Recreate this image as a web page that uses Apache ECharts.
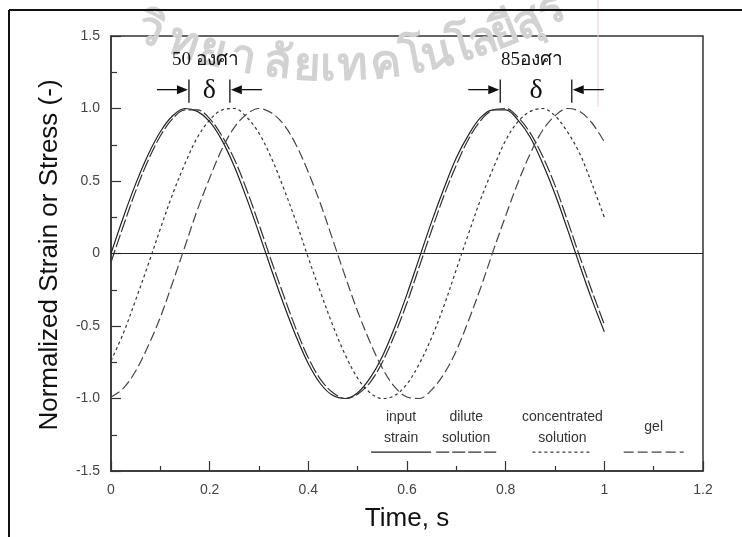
<!DOCTYPE html>
<html>
<head>
<meta charset="utf-8">
<script src="https://cdn.jsdelivr.net/npm/echarts@6/dist/echarts.min.js"></script>
<style>
html,body{margin:0;padding:0;background:#fff;}
#chart{width:742px;height:537px;}
</style>
</head>
<body>
<div id="chart"></div>
<script>
// ---- data ----
const times = [0,0.025,0.05,0.075,0.1,0.125,0.15,0.175,0.2,0.225,0.25,0.275,0.3,0.325,0.35,0.375,0.4,0.425,0.45,0.475,0.5,0.525,0.55,0.575,0.6,0.625,0.65,0.675,0.7,0.725,0.75,0.775,0.8,0.825,0.85,0.875,0.9,0.925,0.95,0.975,1.0];
const inputStrain = [0,0.25,0.48,0.68,0.84,0.95,1.00,0.98,0.91,0.78,0.60,0.38,0.14,-0.11,-0.35,-0.57,-0.76,-0.90,-0.98,-1.00,-0.96,-0.86,-0.71,-0.51,-0.28,-0.03,0.22,0.45,0.66,0.82,0.94,0.99,0.99,0.92,0.80,0.62,0.41,0.17,-0.08,-0.32,-0.54];
const diluteSolution = [-0.06,0.19,0.43,0.64,0.81,0.93,0.99,0.99,0.93,0.81,0.65,0.44,0.20,-0.05,-0.29,-0.52,-0.72,-0.87,-0.96,-1.00,-0.97,-0.89,-0.75,-0.56,-0.34,-0.09,0.16,0.40,0.61,0.79,0.92,0.99,1.00,0.94,0.83,0.67,0.47,0.23,-0.02,-0.26,-0.49];
const concentratedSolution = [-0.74,-0.55,-0.32,-0.08,0.17,0.41,0.62,0.80,0.92,0.99,1.00,0.94,0.83,0.66,0.45,0.22,-0.03,-0.27,-0.50,-0.70,-0.86,-0.96,-1.00,-0.98,-0.90,-0.76,-0.58,-0.36,-0.11,0.14,0.38,0.59,0.78,0.91,0.98,1.00,0.95,0.84,0.69,0.48,0.25];
const gel = [-0.99,-0.93,-0.81,-0.64,-0.44,-0.20,0.05,0.30,0.52,0.72,0.87,0.96,1.00,0.97,0.89,0.75,0.56,0.34,0.09,-0.16,-0.40,-0.61,-0.79,-0.92,-0.99,-1.00,-0.94,-0.83,-0.67,-0.46,-0.23,0.02,0.26,0.49,0.69,0.85,0.95,1.00,0.98,0.90,0.77];
const seriesNames = ['input\nstrain','dilute\nsolution','concentrated\nsolution','gel'];
const xTickLabels = ['0','0.2','0.4','0.6','0.8','1','1.2'];
const yTickLabels = ['-1.5','-1.0','-0.5','0','0.5','1.0','1.5'];
// phase-lag annotations: [peak time of reference, peak time of lagged curve, label]
const lagAnnotations = [[0.158,0.241,'50 องศา'],[0.789,0.934,'85องศา']];
// faint watermark text (arched), split into glyph clusters
const watermarkClusters = ['วิ','ท','ย','า','ลั','ย','เ','ท','ค','โ','น','โ','ล','ยี','สุ','ร'];

const pair = (ys) => times.map((t,i)=>[t, ys[i]]);
const styles = [
  {type:'solid', color:'#222'},
  {type:[13,3], color:'#333'},
  {type:[3,3], color:'#333'},
  {type:[10,4], color:'#444'}
];
const values = [inputStrain, diluteSolution, concentratedSolution, gel];

const chart = echarts.init(document.getElementById('chart'), null, {renderer:'canvas'});
const axisFont = {fontFamily:'"Liberation Sans", Arial, sans-serif', fontSize:14, color:'#444'};

const series = values.map((ys,k)=>({
  name: seriesNames[k],
  type:'line',
  data: pair(ys),
  showSymbol:false,
  smooth:0.35,
  silent:true,
  lineStyle:{width:1.2, color:styles[k].color, type:styles[k].type},
  z: 3 + k,
  markLine: k===0 ? {
    silent:true, symbol:['none','none'], label:{show:false},
    lineStyle:{type:'solid', color:'#222', width:1},
    data:[{yAxis:0}]
  } : undefined
}));

chart.setOption({
  animation:false,
  backgroundColor:'#fff',
  grid:{left:111, right:39, top:36, bottom:66, outerBoundsMode:'none', containLabel:false,
        show:true, borderColor:'#333', borderWidth:1.5, backgroundColor:'transparent'},
  xAxis:{
    type:'value', min:0, max:1.2, interval:0.2,
    axisLine:{show:true, onZero:false, lineStyle:{color:'#333', width:1.5}},
    axisTick:{show:true, inside:true, length:10, lineStyle:{color:'#333', width:1.2}},
    minorTick:{show:true, splitNumber:2, length:5, lineStyle:{color:'#333', width:1.2}},
    splitLine:{show:false},
    axisLabel:Object.assign({margin:12, formatter:(v)=>xTickLabels[Math.round(v/0.2)]}, axisFont),
    name:'Time, s', nameLocation:'middle', nameGap:35,
    nameTextStyle:{fontFamily:'"Liberation Sans", Arial, sans-serif', fontSize:26, color:'#111'}
  },
  yAxis:{
    type:'value', min:-1.5, max:1.5, interval:0.5,
    axisLine:{show:true, onZero:false, lineStyle:{color:'#333', width:1.5}},
    axisTick:{show:true, inside:true, length:10, lineStyle:{color:'#333', width:1.2}},
    minorTick:{show:true, splitNumber:2, length:6, lineStyle:{color:'#333', width:1.2}},
    splitLine:{show:false},
    axisLabel:Object.assign({margin:11, formatter:(v)=>yTickLabels[Math.round((v+1.5)/0.5)]}, axisFont),
    name:''
  },
  series: series
});

function drawOverlay(){
  const g = [];
  // watermark along an arc
  const cx = 330, cy = -400, R = 467;
  const clusterX = [150,183,212,243,277,307,328,352,386,413,437,461,483,505,528,552];
  watermarkClusters.forEach((c,i)=>{
    const x = clusterX[i];
    const s = (x-cx)/R, phi = Math.asin(s);
    const y = cy + R*Math.cos(phi);
    g.push({type:'text', x:x, y:y, rotation:phi, z:0,
      style:{text:c, font:'bold 46px "Noto Sans", "DejaVu Sans", sans-serif', fill:'#d2d2d2', align:'center', verticalAlign:'middle'}, silent:true});
  });
  // outer frame (top + left)
  g.push({type:'line', shape:{x1:9,y1:10,x2:742,y2:10}, style:{stroke:'#111', lineWidth:2}, silent:true, z:5});
  g.push({type:'line', shape:{x1:9,y1:10,x2:9,y2:537}, style:{stroke:'#111', lineWidth:2}, silent:true, z:5});
  // faint pink scan line
  g.push({type:'line', shape:{x1:598,y1:0,x2:598,y2:107}, style:{stroke:'#f6c9c9', lineWidth:1}, silent:true});
  // y axis title
  g.push({type:'text', x:50, y:255, rotation:Math.PI/2,
    style:{text:'Normalized Strain or Stress (-)', font:'26px "Liberation Sans", Arial, sans-serif', fill:'#111', align:'center', verticalAlign:'middle'}, silent:true});

  // lag annotations
  lagAnnotations.forEach(([t0,t1,lab])=>{
    const p0 = chart.convertToPixel({gridIndex:0},[t0,1.13]);
    const p1 = chart.convertToPixel({gridIndex:0},[t1,1.13]);
    const pTop = chart.convertToPixel({gridIndex:0},[t0,1.2]);
    const pBot = chart.convertToPixel({gridIndex:0},[t0,1.04]);
    const y = p0[1], yt = pTop[1], yb = pBot[1];
    const bars = [p0[0], p1[0]];
    bars.forEach(x=>g.push({type:'line', shape:{x1:x,y1:yt,x2:x,y2:yb}, style:{stroke:'#111', lineWidth:1.3}, silent:true, z:5}));
    const L = 32, h = 12, w = 4.5;
    g.push({type:'line', shape:{x1:bars[0]-L,y1:y,x2:bars[0]-h,y2:y}, style:{stroke:'#111', lineWidth:1.3}, silent:true, z:5});
    g.push({type:'polygon', shape:{points:[[bars[0]-1,y],[bars[0]-h,y-w],[bars[0]-h,y+w]]}, style:{fill:'#111'}, silent:true, z:5});
    g.push({type:'line', shape:{x1:bars[1]+h,y1:y,x2:bars[1]+L,y2:y}, style:{stroke:'#111', lineWidth:1.3}, silent:true, z:5});
    g.push({type:'polygon', shape:{points:[[bars[1]+1,y],[bars[1]+h,y-w],[bars[1]+h,y+w]]}, style:{fill:'#111'}, silent:true, z:5});
    g.push({type:'text', x:(bars[0]+bars[1])/2, y:y+1, z:5, style:{text:'δ', font:'28px "Liberation Serif", "DejaVu Serif", serif', fill:'#111', align:'center', verticalAlign:'middle'}, silent:true});
    g.push({type:'text', x:(bars[0]+bars[1])/2 - 4, y:yt-19, z:5, style:{text:lab, font:'19px "Liberation Serif", "DejaVu Serif", "Noto Sans", serif', fill:'#111', align:'center', verticalAlign:'middle'}, silent:true});
  });

  // legend inside plot
  const legendX = [0.588, 0.72, 0.915, 1.1];
  legendX.forEach((cx2,k)=>{
    const pc = chart.convertToPixel({gridIndex:0},[cx2,-1.37]);
    const ly = pc[1];
    const lx = pc[0];
    const half = 30;
    const s = styles[k];
    g.push({type:'line', shape:{x1:lx-half,y1:ly,x2:lx+half,y2:ly},
      style:{stroke:s.color, lineWidth:1.2, lineDash: s.type==='solid'? null : s.type}, silent:true});
    g.push({type:'text', x:lx, y: ly-25,
      style:{text:seriesNames[k], font:'14px "Liberation Sans", Arial, sans-serif', fill:'#333', align:'center', verticalAlign:'middle', lineHeight:21}, silent:true});
  });
  chart.setOption({graphic:{elements:g}});
}
drawOverlay();
</script>
</body>
</html>
